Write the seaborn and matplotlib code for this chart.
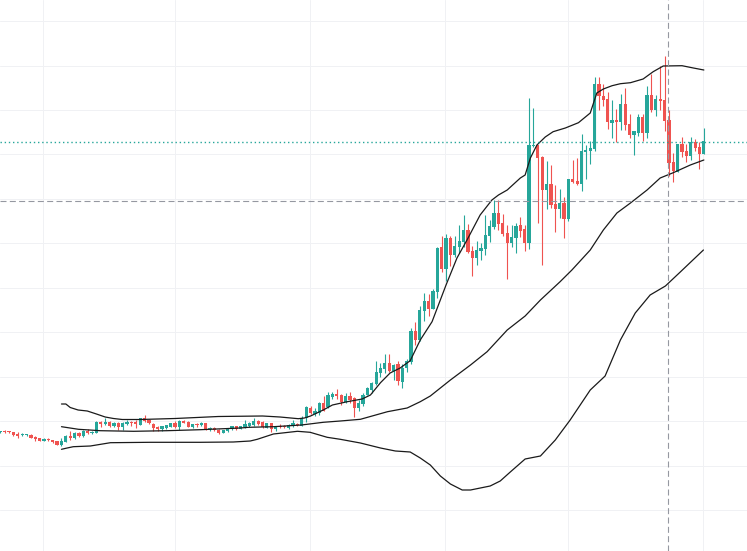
import matplotlib
matplotlib.use("Agg")
import matplotlib.pyplot as plt
import numpy as np
import pandas as pd
import seaborn as sns

# one row per candle, in the order open, high, low, close
open_ = [118.7,120,119.7,118.7,117.3,115.7,115.7,116,114,113,110.3,112,110.7,110,105.7,109.3,115.3,112.7,118,115,
 120,118.3,118.3,129,126.7,129,125.3,128,124,127,129,129,126,132.7,131,127.3,124,121.7,123,124.3,
 128,124.3,130,129.3,124.3,127,126,128,121.7,122.7,121.3,118.3,120,121.7,124.7,121.7,123.7,125,126.3,130,
 128.7,123,127.7,122.3,125.3,125.3,123,125,127,125.3,132.7,143.3,137,137.7,147.7,144.3,154.3,157.3,156,149.3,
 155,153,142.7,147,156,161,167,177.7,181.7,187.7,179.7,186.7,169.3,182.7,189.3,220,211,240.3,250,242,
 259,304,282,313,296,303.7,309.3,321,300,293,300,302,315.3,324.3,338,328,318,308,313,326,
 322,308.3,404.7,406,394,361.3,367,347,342,348,332.3,372,370,367,399.3,400.3,402,467,455,452,
 428,431,429,447,427,416,418,434,418,456,441,452,451,431,389,379,407,400,395,409,
 404,397]
high = [120,121,120,118.7,118.7,118,117.3,116.7,115,113,112.7,112.7,111,110,113,116,120,118.7,118.7,121,
 121.7,120.3,129.7,130.3,133.3,129.7,129,128.7,128.7,130.7,130.3,130.7,132.7,135.7,131.7,128,125,125.3,126,128.3,
 130.3,130.7,130.7,129.7,127.3,128.3,129,128,123.7,123.7,122,121.3,123.3,125,125,125,131,129.3,132.7,130.7,
 130,128,128,125,126.7,126,127,131,128.3,135,145,145,142.7,148.7,155,159,158.7,162,156.7,157.7,
 159,153.7,151,157.7,164.3,169,190,187.7,196.7,197,187,190.3,186.7,191.7,222.7,229.3,245,258,257,262,
 304,315,317.3,315,315,326,336,327,305,310,307.7,335.7,331,351,351,337,326,326,327.7,333.7,
 326,452.7,442.7,406,395,390,386,366,362,354,372,391,393,417,406,410,474,474,467,459,
 451,442,457,463,437,420,437,437,465,477,456,485,495,441,398,407,414,407,414,412,
 409,423]
low = [118.5,118.3,118.5,115.3,113.3,115,115,112.7,110,110,110,110,108,106.3,105.3,109,111,112,114.3,114.3,
 117,116.7,118.3,124.3,125.7,123.7,124.3,121,121,126,125.3,123.3,125.7,129,126.7,120.3,120.3,120.3,122,123.7,
 122.7,120.7,127.7,124,123,124.3,125.3,121,120.3,119.7,117,118,119.3,121,121,121.7,122.7,123.7,125.3,126.3,
 123,122.7,119.3,120.3,122.7,122.7,122.3,124.3,124.7,125,129.3,136.7,135.3,136,139.7,143.3,152,152,146,148.3,
 147.7,134.3,140.3,145,155.7,157.7,166,174.3,178.3,179,171,166,163.3,179,187,206,210,230,235.3,242,
 252.7,279,270,285,294.3,297.7,304.3,298.3,275.3,286.3,291,296,309.3,321.7,321,315.3,272,304.3,298.3,313.7,
 300,302.3,404.3,328.3,286,342,342.7,319.3,332.7,312.7,330.3,367.7,366,360,372,387,400,441,445,422,
 413,409.3,421,421,413,396,415,410,413,439,435,441,420,375,369,379,394,389,391,400,
 382,397]
close = [119.7,119,118.7,116,115,117,116.7,113.3,112,110.3,112,110.7,109.3,106.3,110,115.3,112.7,118,115,120,
 118,119,129,126.7,128.7,125,128.3,123.7,128,129,128.3,126.7,132.7,129.7,127.7,123.3,122,124.7,125.7,127.7,
 124.3,130,128.3,124.3,127,126.3,128,121.7,122.7,121.3,117.7,121,122.7,124.7,121.7,125,127,128.3,130.3,127,
 123.7,127.7,121.7,125,124.3,124,125.7,128,125.7,132.7,144,138,140.3,147.7,140.3,156,157,155.3,149.3,155.3,
 151,143,147.7,156.3,163.3,168.3,179,183.3,187.7,180,186,169.7,183.3,190,220.3,211,241,250,242,260,
 303.3,282,313,296,305.3,310,321,299.3,293,301,303,316,325,338,327,317,308,314,325,320,
 308.3,406,406,393.3,361.3,367,346.3,342.3,348,332.3,372,369,367,400,401,403,467,455,451,429,
 431,429,447,426,416,420,434,418,456,441,452,450,430,388,380,407,399,395,409,403,
 397,410]

upper_bar = [14,15,16,17.8,19.9,22,24,25.9,27.9,32,40,49.9,60,64,68.2,69.6,71,73.9,76,79.4,82.8,84.7,87,89.2,91.5,93.8,96.1,98.8,102,104.5,106.8,109.8,112.5,114,116,119,120.1,121.3,122.8,124.7,126.5,129.3,132.3,135,136.5,138,140,141.9,144.2,147.1,149.4,151.7,156,158.6,161]
upper_val = [147,147,143.5,141,140,137,134,132.5,131.5,131.5,132.5,134.5,135,134,132.3,133,135,141,146,149.3,152,156,168.3,178,183,190.3,211,229.3,266,293,311,336,351,356,361,373,376,393,406,414,419.3,423,428.3,438,458,462,465.3,467.3,468.3,472,479.3,485,485.3,483,481]
middle_bar = [14,17.9,22.9,30.5,38.1,45.8,54.9,56.8,62.5,68.9,73.9,77.8,82.4,88.6,93.1,96.1,98.4,103,107.6,111.4,116,120.1,123.6,128.1,130.8,135,138,141.1,144.2,148,151,154,157.9,161]
middle_val = [124.3,121.7,120.3,119.7,120.3,121.3,123,123.7,124.3,126,128.7,130,131.7,139.3,143,149.3,155,171,186,199.3,221,235,251,269.3,281,301,321,338,348,361,373,378.3,386,391]
lower_bar = [14,15.3,16.7,20.6,25.2,34.3,45.8,53.3,57.2,58.8,62.5,68,70.9,74.8,77.8,82.4,87,90.4,93.8,96.1,98.4,100.7,103,105.7,107.6,112.1,114.4,116.7,120.1,123.6,127,130.4,135,138.4,141.9,145.3,148.7,152.2,155.6,160.9]
lower_val = [101.7,103,104.3,105,108.3,108.7,108.7,109,110,111.7,117,119.7,118.7,113.7,111.7,108,103,100,99,93,86,75,67,61,61,65,70,79,92,95,111,131,161,175,211,238,256,265,279,301]

grid_bars = [9.8, 40, 70.9, 101.8, 130, 160.9]
grid_levels = [41, 85.5, 130, 174.5, 219, 263, 308, 352, 397, 441, 485.5, 530.5]
last_level = 409.5
cross_level = 350
cross_bar = 152.9

TEAL = "#26a69a"
RED = "#ef5350"

sns.set_theme(style="white")
candles = pd.DataFrame({"open": open_, "high": high, "low": low, "close": close})
candles["bar"] = candles.index
candles["colour"] = np.where(candles["close"] >= candles["open"], TEAL, RED)

fig = plt.figure(figsize=(7.47, 5.51), dpi=100)
ax = fig.add_axes([0, 0, 1, 1])
ax.set_xlim(-0.07, 170.87)
ax.set_ylim(0, 551)
ax.set_xticks(grid_bars)
ax.set_yticks(grid_levels)
ax.tick_params(left=False, bottom=False, labelleft=False, labelbottom=False)
ax.grid(True, color="#f0f1f4", linewidth=0.72)
ax.set_axisbelow(True)
sns.despine(ax=ax, left=True, bottom=True)

ax.vlines(candles["bar"], candles["low"], candles["high"], colors=candles["colour"], linewidth=0.8, zorder=2)
ax.bar(candles["bar"], (candles["close"] - candles["open"]).abs().clip(lower=1),
       bottom=candles[["open", "close"]].min(axis=1), width=0.74,
       color=candles["colour"], linewidth=0, zorder=3)

for bars, vals in ((upper_bar, upper_val), (middle_bar, middle_val), (lower_bar, lower_val)):
    sns.lineplot(x=bars, y=vals, ax=ax, color="#1a1a1a", linewidth=0.9, zorder=4, sort=False, legend=False)

ax.axhline(last_level, color=TEAL, linewidth=1.0, linestyle=(0, (1, 2)), zorder=5)
ax.axhline(cross_level, color="#9598a1", linewidth=0.8, linestyle=(0, (5.4, 3)), zorder=5)
ax.axvline(cross_bar, color="#9598a1", linewidth=0.8, linestyle=(0, (5.4, 3)), zorder=5)

fig.savefig("out.png", dpi=100)
